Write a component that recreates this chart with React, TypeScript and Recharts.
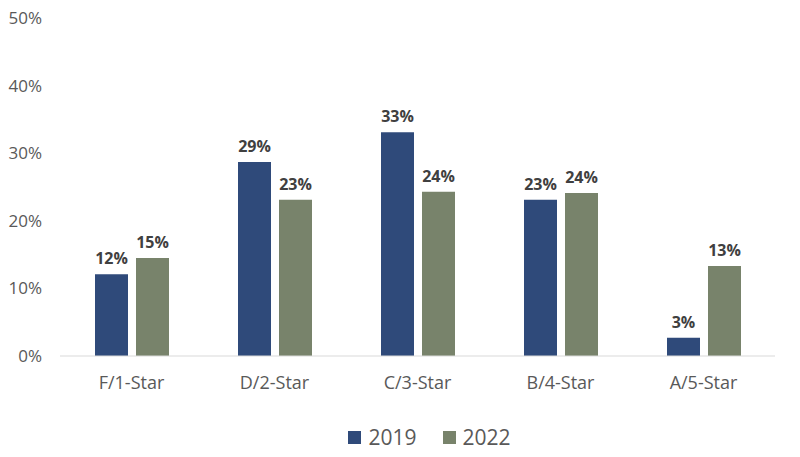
import { Bar, BarChart, LabelList, Legend, XAxis, YAxis } from 'recharts';

const categories = ['F/1-Star', 'D/2-Star', 'C/3-Star', 'B/4-Star', 'A/5-Star'];
const values2019 = [12.1, 28.7, 33.1, 23.1, 2.7];
const values2022 = [14.5, 23.1, 24.3, 24.1, 13.3];
const labels2019 = ['12%', '29%', '33%', '23%', '3%'];
const labels2022 = ['15%', '23%', '24%', '24%', '13%'];
const yTicks = [0, 10, 20, 30, 40, 50];

const NAVY = '#2f4a7a';
const SAGE = '#78836b';
const FONT = '"Open Sans", "Noto Sans", sans-serif';

const data = categories.map((cat, i) => ({
  cat,
  y2019: values2019[i],
  y2022: values2022[i],
  l2019: labels2019[i],
  l2022: labels2022[i],
}));

function LegendBox() {
  const items = [
    { name: '2019', color: NAVY },
    { name: '2022', color: SAGE },
  ];
  return (
    <div style={{ display: 'flex', justifyContent: 'center', gap: 26, paddingTop: 6, paddingLeft: 84, fontFamily: FONT, fontSize: 21, color: '#595959' }}>
      {items.map((it) => (
        <div key={it.name} style={{ display: 'flex', alignItems: 'center', gap: 7 }}>
          <span style={{ display: 'inline-block', width: 13, height: 13, background: it.color }} />
          <span>{it.name}</span>
        </div>
      ))}
    </div>
  );
}

export default function App() {
  return (
    <div style={{ width: 800, height: 457, background: '#fff' }}>
      <style>{`body{margin:0}`}</style>
      <BarChart
        width={800}
        height={457}
        data={data}
        margin={{ top: 18, right: 25, left: 0, bottom: 0 }}
        barGap={8}
        barSize={33}
      >
        <XAxis
          dataKey="cat"
          axisLine={{ stroke: '#d9d9d9' }}
          tickLine={false}
          tick={{ fill: '#595959', fontSize: 18, fontFamily: FONT }}
          tickMargin={14}
          height={61}
        />
        <YAxis
          domain={[0, 50]}
          ticks={yTicks}
          tickFormatter={(v) => `${v}%`}
          axisLine={false}
          tickLine={false}
          tick={{ fill: '#595959', fontSize: 17, fontFamily: FONT }}
          width={60}
          tickMargin={12}
        />
        <Legend verticalAlign="bottom" height={40} content={() => <LegendBox />} />
        <Bar dataKey="y2019" name="2019" fill={NAVY} isAnimationActive={false}>
          <LabelList dataKey="l2019" position="top" offset={10} fill="#404040" fontSize={16} fontWeight="bold" fontFamily={FONT} />
        </Bar>
        <Bar dataKey="y2022" name="2022" fill={SAGE} isAnimationActive={false}>
          <LabelList dataKey="l2022" position="top" offset={10} fill="#404040" fontSize={16} fontWeight="bold" fontFamily={FONT} />
        </Bar>
      </BarChart>
    </div>
  );
}
